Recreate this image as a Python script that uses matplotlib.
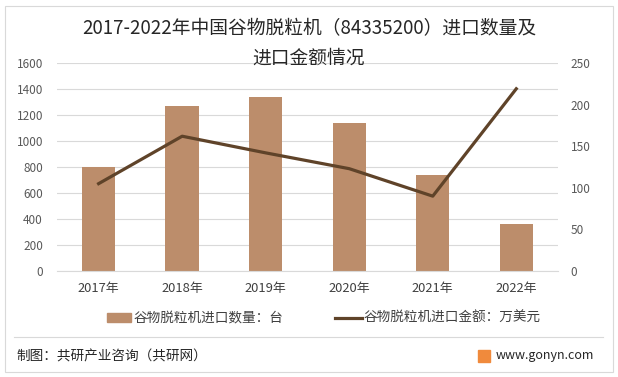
import numpy as np
import matplotlib.pyplot as plt
from matplotlib.patches import Rectangle
from matplotlib.lines import Line2D

plt.rcParams['font.family'] = ['Noto Sans CJK SC', 'DejaVu Sans']
plt.rcParams['axes.unicode_minus'] = False

# 数据
years = ['2017年', '2018年', '2019年', '2020年', '2021年', '2022年']
quantity = [800, 1272, 1335, 1140, 740, 362]      # 进口数量：台
amount = [105, 162, 142, 123, 90, 219]            # 进口金额：万美元
left_ticks = [0, 200, 400, 600, 800, 1000, 1200, 1400, 1600]
right_ticks = [0, 50, 100, 150, 200, 250]

bar_color = '#BC8D6B'
line_color = '#5F4329'
tick_color = '#595959'

fig = plt.figure(figsize=(6.18, 3.77), dpi=100)
ax = fig.add_axes([0.092, 0.281, 0.811, 0.552])
ax2 = ax.twinx()

x = np.arange(len(years))
ax.bar(x, quantity, width=0.4, color=bar_color, zorder=2)
ax2.plot(x, amount, color=line_color, linewidth=2.3, zorder=3)

ax.set_xlim(-0.5, len(years) - 0.5)
ax.set_ylim(0, 1600)
ax2.set_ylim(0, 250)
ax.set_yticks(left_ticks)
ax2.set_yticks(right_ticks)
ax.set_xticks(x)
ax.set_xticklabels(years)

ax.grid(axis='y', color='#D9D9D9', linewidth=0.8, zorder=0)
ax.set_axisbelow(True)
for a in (ax, ax2):
    for s in a.spines.values():
        s.set_visible(False)
    a.tick_params(length=0, labelsize=8.5, colors=tick_color)
ax.spines['bottom'].set_visible(True)
ax.spines['bottom'].set_color('#D9D9D9')
ax.tick_params(axis='y', pad=10)
ax.tick_params(axis='x', pad=8, colors='#404040', labelsize=9.3)
ax2.tick_params(axis='y', pad=9)

# 标题
fig.text(0.5, 0.925, '2017-2022年中国谷物脱粒机（84335200）进口数量及', ha='center', va='center',
         fontsize=13.5, color='#262626')
fig.text(0.5, 0.845, '进口金额情况', ha='center', va='center', fontsize=13.5, color='#262626')

# 图例
fig.patches.append(Rectangle((107 / 618, 1 - 322 / 377), 24 / 618, 9 / 377,
                             transform=fig.transFigure, color=bar_color))
fig.text(134 / 618, 1 - 318 / 377, '谷物脱粒机进口数量：台', ha='left', va='center',
         fontsize=9.8, color='#404040')
fig.lines.append(Line2D([335 / 618, 362 / 618], [1 - 318 / 377, 1 - 318 / 377],
                        transform=fig.transFigure, color=line_color, linewidth=2.3))
fig.text(363 / 618, 1 - 318 / 377, '谷物脱粒机进口金额：万美元', ha='left', va='center',
         fontsize=9.8, color='#404040')

# 底部
fig.lines.append(Line2D([14 / 618, 603 / 618], [1 - 337 / 377, 1 - 337 / 377],
                        transform=fig.transFigure, color='#D9D9D9', linewidth=0.8))
fig.text(16 / 618, 1 - 356 / 377, '制图：共研产业咨询（共研网）', ha='left', va='center',
         fontsize=9.8, color='#262626')
fig.patches.append(Rectangle((478 / 618, 1 - 362 / 377), 12 / 618, 12 / 377,
                             transform=fig.transFigure, color='#F08A3C'))
fig.text(496 / 618, 1 - 356 / 377, 'www.gonyn.com', ha='left', va='center',
         fontsize=9, color='#262626')

# 外框
fig.patches.append(Rectangle((5 / 618, 5 / 377), 608 / 618, 366 / 377, transform=fig.transFigure,
                             fill=False, edgecolor='#D9D9D9', linewidth=0.8))

fig.savefig('out.png', dpi=100)
